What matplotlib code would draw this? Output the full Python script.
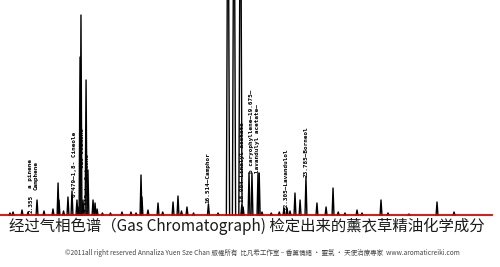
import matplotlib
matplotlib.use('Agg')
import matplotlib.pyplot as plt

# 保留时间(分钟)与峰高(相对单位)
peak_time = [1.70, 1.93, 2.60, 3.05, 3.72, 4.24, 4.91, 5.29, 5.36, 5.70,
             6.03, 6.33, 6.70, 6.78, 6.93, 7.00, 7.15, 7.38, 7.52, 7.90,
             8.05, 8.20, 8.60, 9.20, 10.06, 10.73, 11.11, 11.48, 11.55, 12.00,
             12.75, 13.10, 13.87, 14.24, 14.50, 14.91, 15.40, 16.51, 17.23, 17.97,
             18.42, 18.90, 19.00, 19.10, 19.54, 19.76, 20.21, 20.30, 20.51, 21.20,
             21.80, 22.15, 22.38, 22.60, 22.97, 23.35, 23.79, 24.61, 25.29, 25.81,
             26.20, 26.70, 27.60, 27.97, 29.39, 29.91, 31.48, 33.57, 34.84]
peak_height = [2, 3, 5, 3, 15, 4, 6, 32, 15, 4,
               18, 24, 15, 8, 158, 200, 15, 135, 45, 15,
               12, 6, 2, 2, 3, 3, 2, 40, 18, 5,
               12, 3, 13, 19, 4, 8, 2, 11, 2, 400,
               400, 400, 10, 8, 42, 42, 42, 42, 3, 2,
               3, 7, 7, 4, 22, 15, 38, 12, 8, 27,
               3, 2, 5, 2, 15, 2, 1, 13, 3]
tall_peaks = [17.97, 18.42, 18.90]

# 峰的标注
label_text = ['2.355', 'a pinene', 'Camphene', '6.479—1,8- Cineole', 'cis Ocimene',
              '7.515—tr Ocimene', '16.514—Camphor', '18.904—Linalyl acetate',
              'b caryophyllene—19.675—', 'lavandulyl acetate—', '22.305—Lavandulol',
              '23.785—Borneol']
label_x = [3.27, 3.27, 3.64, 6.48, 7.08, 7.45, 16.45, 19.02, 19.69, 20.21, 22.30, 23.79]
label_y = [2, 27, 25, 18, 47, 3, 12, 13, 42, 42, 5, 38]

title = '经过气相色谱（Gas Chromatograph) 检定出来的薰衣草精油化学成分'
footer = ('©2011all right reserved Annaliza Yuen Sze Chan 版權所有  比凡希工作室 – '
          '香薰情緒 · 靈氣 · 天使治療專家  www.aromaticreiki.com')

fig = plt.figure(figsize=(5, 2.67), dpi=100)
ax = fig.add_axes([0, 0, 1, 1])
ax.set_xlim(0.957, 38.27)
ax.set_ylim(-52, 215)
ax.axis('off')

# 画色谱峰
for t, h in zip(peak_time, peak_height):
    w = 0.12 if t in tall_peaks else 0.07
    ax.plot([t - w, t, t + w], [0, h, 0], color='black', lw=1.0, zorder=2)

# 红色基线
ax.plot([0.957, 37.67], [0, 0], color='#e00000', lw=1.3, zorder=3)

for txt, x, y in zip(label_text, label_x, label_y):
    ax.text(x, y, txt, rotation=90, ha='center', va='bottom', fontweight='bold',
            fontsize=4.3, family='DejaVu Sans Mono', color='black', zorder=4)

fig.text(0.494, 0.154, title, ha='center', va='center', fontsize=11.1,
         family=['Noto Sans CJK SC', 'DejaVu Sans'], color='#1a1a1a')
fig.text(0.525, 0.052, footer, ha='center', va='center', fontsize=4.7,
         family=['Noto Sans CJK TC', 'DejaVu Sans'], color='#444444')

fig.savefig('out.png', dpi=100)
